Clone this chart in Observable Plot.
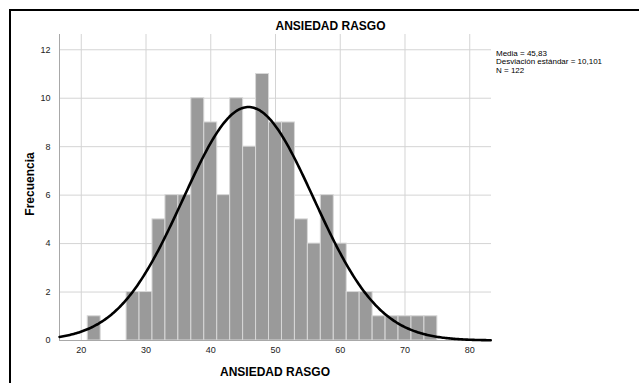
<!DOCTYPE html>
<html>
<head>
<meta charset="utf-8">
<script src="https://cdn.jsdelivr.net/npm/d3@7"></script>
<script src="https://cdn.jsdelivr.net/npm/@observablehq/plot@0.6"></script>
<style>
  html, body { margin: 0; padding: 0; background: #fff; overflow: hidden; }
  svg { display: block; }
</style>
</head>
<body>
<div id="wrap"></div>
<script>
// Histogram bins (lower edge, count) with common bin width
const binStart = [21, 23, 25, 27, 29, 31, 33, 35, 37, 39, 41, 43, 45, 47, 49, 51, 53, 55, 57, 59, 61, 63, 65, 67, 69, 71, 73];
const binWidth = 2;
const counts   = [1, 0, 0, 2, 2, 5, 6, 6, 10, 9, 6, 10, 8, 11, 9, 9, 5, 4, 6, 4, 2, 2, 1, 1, 1, 1, 1];
const xTicks = [20, 30, 40, 50, 60, 70, 80];
const yTicks = [0, 2, 4, 6, 8, 10, 12];
const mean = 45.83;
const sd = 10.101;
const n = 122;
const statLines = ["Media = 45,83", "Desviación estándar = 10,101", "N = 122"];
const title = "ANSIEDAD RASGO";
const xLabel = "ANSIEDAD RASGO";
const yLabel = "Frecuencia";
const xDomain = [16.64, 83.36];
const yDomain = [0, 12.63];

const bars = binStart.map((b, i) => ({x1: b, x2: b + binWidth, y: counts[i]})).filter(d => d.y > 0);

// fitted normal curve scaled to counts
const curve = [];
for (let x = xDomain[0]; x <= xDomain[1] + 1e-9; x += 0.2) {
  const z = (x - mean) / sd;
  curve.push({x, y: n * binWidth * Math.exp(-0.5 * z * z) / (sd * Math.sqrt(2 * Math.PI))});
}

const font = "'Liberation Sans', Arial, sans-serif";
const W = 639, H = 383;
const plot = Plot.plot({
  width: W, height: H,
  marginLeft: 59, marginRight: 148, marginTop: 34, marginBottom: 43,
  style: {fontFamily: font, fontSize: "9px", color: "#222", background: "#fff", maxWidth: "none"},
  x: {domain: xDomain, ticks: xTicks, tickSize: 0, tickPadding: 6, label: null},
  y: {domain: yDomain, ticks: yTicks, tickSize: 0, tickPadding: 9, label: null},
  marks: [
    Plot.gridX(xTicks, {stroke: "#d4d4d4", strokeOpacity: 1}),
    Plot.gridY(yTicks, {stroke: "#d4d4d4", strokeOpacity: 1}),
    Plot.rectY(bars, {x1: "x1", x2: "x2", y: "y", fill: "#9a9a9a", stroke: "#d8d8d8", strokeWidth: 1}),
    Plot.ruleX([xDomain[0]], {stroke: "#a8a8a8"}),
    Plot.ruleY([0], {stroke: "#a8a8a8"}),
    Plot.line(curve, {x: "x", y: "y", stroke: "#000", strokeWidth: 2.6}),
    Plot.axisX(xTicks, {tickSize: 0, tickPadding: 6, fill: "#222", fontSize: 9}),
    Plot.axisY(yTicks, {tickSize: 0, tickPadding: 9, fill: "#222", fontSize: 9})
  ]
});
document.getElementById("wrap").append(plot);

const svg = d3.select(plot);
// outer frame (left and top edges only, as in the reference)
svg.append("path").attr("d", "M10,383V10H639").attr("fill", "none").attr("stroke", "#000").attr("stroke-width", 2);
svg.append("text").attr("x", 330.5).attr("y", 30).attr("text-anchor", "middle")
  .attr("font-family", font).attr("font-size", 12).attr("font-weight", "bold").attr("fill", "#000").text(title);
svg.append("text").attr("x", 275).attr("y", 376).attr("text-anchor", "middle")
  .attr("font-family", font).attr("font-size", 12).attr("font-weight", "bold").attr("fill", "#000").text(xLabel);
svg.append("text").attr("transform", "translate(34,184) rotate(-90)").attr("text-anchor", "middle")
  .attr("font-family", font).attr("font-size", 12).attr("font-weight", "bold").attr("fill", "#000").text(yLabel);
const st = svg.append("text").attr("font-family", font).attr("font-size", 8).attr("fill", "#000").attr("text-anchor", "start");
statLines.forEach((s, i) => st.append("tspan").attr("x", 496).attr("y", 55.5 + i * 8.6).text(s));
</script>
</body>
</html>
